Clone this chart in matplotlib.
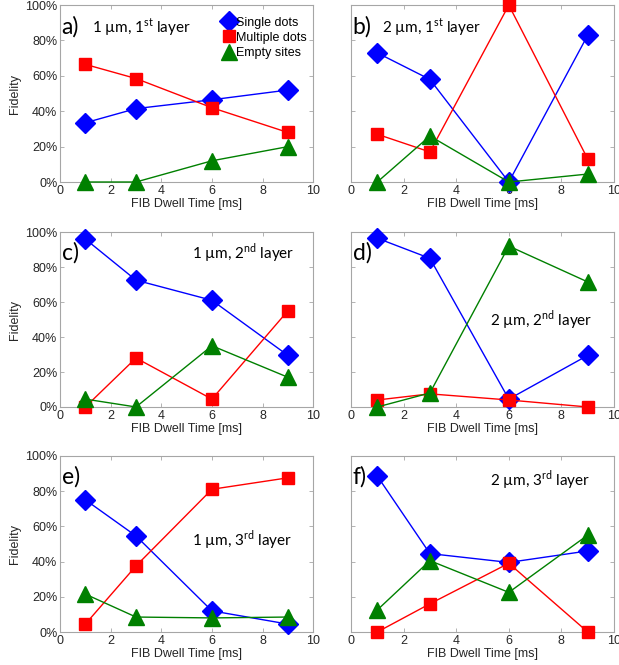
import numpy as np
import matplotlib.pyplot as plt
from matplotlib.lines import Line2D
from matplotlib.ticker import PercentFormatter

plt.rcParams['font.family'] = ['Liberation Sans', 'DejaVu Sans']
plt.rcParams['mathtext.fontset'] = 'custom'
plt.rcParams['mathtext.rm'] = 'Lato'

dwell = [1, 3, 6, 9]

# fractions in percent, one list per panel and outcome
single_a = [33.5, 41.5, 46.5, 52]
multi_a = [66.5, 58.5, 42, 28]
empty_a = [0, 0, 12, 20]

single_b = [73, 58, 0, 83]
multi_b = [27, 17, 100, 13]
empty_b = [0, 26, 0, 4.5]

single_c = [96, 72.5, 61, 29.5]
multi_c = [0, 28, 4.5, 55]
empty_c = [4.5, 0, 35, 17]

single_d = [96.5, 85, 4.5, 29.5]
multi_d = [4, 7.5, 4, 0]
empty_d = [0, 8, 92, 71.5]

single_e = [75, 54.5, 12, 4.5]
multi_e = [4.5, 37.5, 81, 87.5]
empty_e = [21.5, 8.5, 8, 8.5]

single_f = [88.5, 44.5, 39.5, 46]
multi_f = [0, 16, 39, 0]
empty_f = [12.5, 40.5, 22.5, 55]

panel_tags = ['a)', 'b)', 'c)', 'd)', 'e)', 'f)']
panel_titles = ['1 µm, 1$^{\\mathrm{st}}$ layer', '2 µm, 1$^{\\mathrm{st}}$ layer',
                '1 µm, 2$^{\\mathrm{nd}}$ layer', '2 µm, 2$^{\\mathrm{nd}}$ layer',
                '1 µm, 3$^{\\mathrm{rd}}$ layer', '2 µm, 3$^{\\mathrm{rd}}$ layer']
series = [(single_a, multi_a, empty_a), (single_b, multi_b, empty_b),
          (single_c, multi_c, empty_c), (single_d, multi_d, empty_d),
          (single_e, multi_e, empty_e), (single_f, multi_f, empty_f)]
legend_labels = ['Single dots', 'Multiple dots', 'Empty sites']

# axes rectangles and text placement
rects = [[0.097, 0.7263, 0.409, 0.266], [0.567, 0.7263, 0.425, 0.266],
         [0.097, 0.388, 0.409, 0.263], [0.567, 0.388, 0.425, 0.263],
         [0.097, 0.0496, 0.409, 0.265], [0.567, 0.0496, 0.425, 0.265]]
title_pos = [(0.125, 0.876), (0.118, 0.876), (0.52, 0.88),
             (0.53, 0.497), (0.52, 0.52), (0.53, 0.864)]

blue = '#0000ff'
red = '#ff0000'
green = '#008000'
frame = '#a6a6a6'

fig = plt.figure(figsize=(6.19, 6.65), dpi=100)

for i in range(6):
    ax = fig.add_axes(rects[i])
    s, m, e = series[i]
    ax.plot(dwell, np.array(s) / 100, '-', color=blue, lw=1, marker='D', ms=10,
            mfc=blue, mec=blue, clip_on=False, zorder=3)
    ax.plot(dwell, np.array(m) / 100, '-', color=red, lw=1, marker='s', ms=8.5,
            mfc=red, mec=red, clip_on=False, zorder=3)
    ax.plot(dwell, np.array(e) / 100, '-', color=green, lw=1, marker='^', ms=11,
            mfc=green, mec=green, clip_on=False, zorder=3)
    ax.set_xlim(0, 10)
    ax.set_ylim(0, 1)
    ax.set_xticks([0, 2, 4, 6, 8, 10])
    ax.set_yticks([0, 0.2, 0.4, 0.6, 0.8, 1.0])
    ax.tick_params(direction='in', top=True, right=True, length=3, width=0.6,
                   color=frame, labelsize=9, labelcolor='#262626', pad=2)
    for sp in ax.spines.values():
        sp.set_color(frame)
        sp.set_linewidth(0.8)
    if i % 2 == 0:
        ax.yaxis.set_major_formatter(PercentFormatter(1.0, decimals=0))
        ax.set_ylabel('Fidelity', fontsize=9, color='#262626', labelpad=3)
    else:
        ax.set_yticklabels([])
    ax.set_xlabel('FIB Dwell Time [ms]', fontsize=9, color='#262626', labelpad=1)
    ax.text(0.006, 0.88, panel_tags[i], transform=ax.transAxes,
            fontsize=16.5, family='Lato', va='center', ha='left')
    ax.text(title_pos[i][0], title_pos[i][1], panel_titles[i], transform=ax.transAxes,
            fontsize=11, family='Lato', va='center', ha='left')
    if i == 0:
        handles = [Line2D([], [], ls='none', marker='D', ms=10, color=blue),
                   Line2D([], [], ls='none', marker='s', ms=8.5, color=red),
                   Line2D([], [], ls='none', marker='^', ms=11, color=green)]
        ax.legend(handles, legend_labels, loc='upper right', bbox_to_anchor=(1.0, 0.97),
                  frameon=False, fontsize=9, handlelength=0.8, handletextpad=0.2,
                  labelspacing=0.25, borderaxespad=0.1)

fig.savefig('out.png', dpi=100)
